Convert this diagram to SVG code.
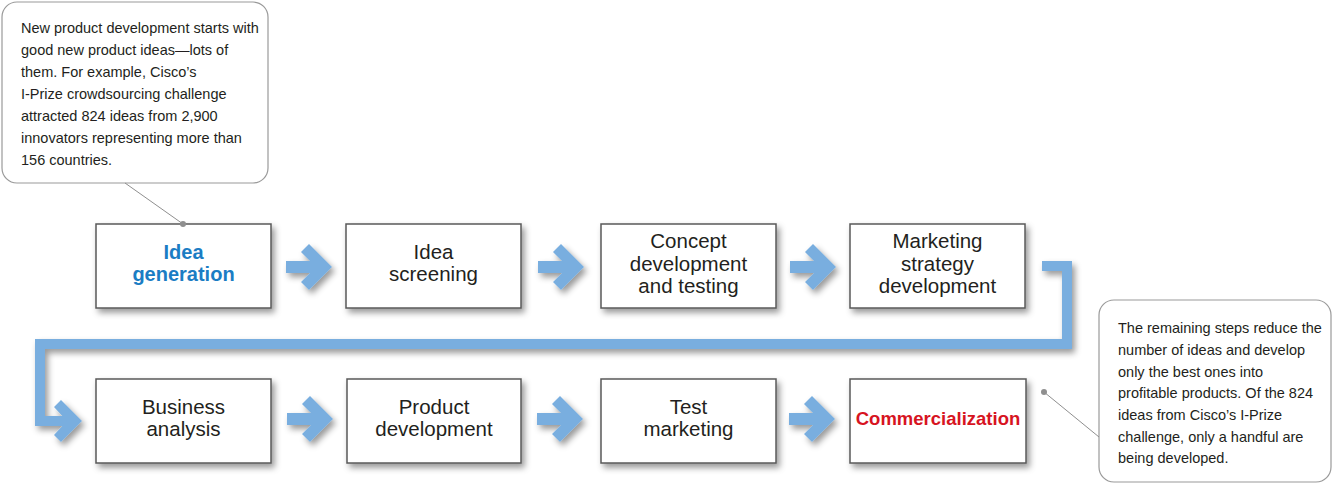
<svg xmlns="http://www.w3.org/2000/svg" xmlns:xlink="http://www.w3.org/1999/xlink" width="1333" height="487" viewBox="0 0 1333 487">
<defs>
<style>
.box{fill:#fff;stroke:#5a5a5a;stroke-width:1.5}
.lbl{font-family:"Liberation Sans",Arial,Helvetica,sans-serif;font-size:20.5px;fill:#231f20;text-anchor:middle}
.blue{fill:#1b7dc4;font-weight:bold;font-size:20px}
.red{fill:#d7141f;font-weight:bold;font-size:18.5px}
.callout{fill:#fff;stroke:#9a9a9a;stroke-width:1.2}
.ctext{font-family:"Liberation Sans",Arial,Helvetica,sans-serif;font-size:14.5px;fill:#231f20}
.ptr{stroke:#8f8f8f;stroke-width:1;fill:none}
.dot{fill:#8f8f8f}
.flow{fill:#79aedf}
.loop{fill:none;stroke:#79aedf;stroke-width:10;stroke-linejoin:miter}
</style>
<filter id="sh" x="-20%" y="-20%" width="150%" height="160%">
<feDropShadow dx="3" dy="4" stdDeviation="3" flood-color="#000" flood-opacity="0.4"/>
</filter>
<polygon id="arr" points="-46,-6 -22,-6 -31,-15 -23,-23 0,0 -23,23 -31,15 -22,6 -46,6"/>
</defs>

<g id="connectors" filter="url(#sh)">
<use xlink:href="#arr" class="flow" transform="translate(332,267)"/>
<use xlink:href="#arr" class="flow" transform="translate(584,267)"/>
<use xlink:href="#arr" class="flow" transform="translate(836,267)"/>
<path class="loop" d="M1042,266 H1067 V344 H40 V421 H72"/>
<polygon class="flow" points="82,421 61,400 54,407 67,421 54,435 61,442"/>
<use xlink:href="#arr" class="flow" transform="translate(333,419)"/>
<use xlink:href="#arr" class="flow" transform="translate(583,419)"/>
<use xlink:href="#arr" class="flow" transform="translate(835,419)"/>
</g>

<g id="idea-generation">
<rect class="box" x="96" y="224" width="175" height="84" filter="url(#sh)"/>
<text class="lbl blue" x="183.5" y="259">Idea</text>
<text class="lbl blue" x="183.5" y="281">generation</text>
</g>
<g id="idea-screening">
<rect class="box" x="346" y="224" width="175" height="84" filter="url(#sh)"/>
<text class="lbl" x="433.5" y="259">Idea</text>
<text class="lbl" x="433.5" y="281">screening</text>
</g>
<g id="concept-development">
<rect class="box" x="601" y="224" width="175" height="84" filter="url(#sh)"/>
<text class="lbl" x="688.5" y="248">Concept</text>
<text class="lbl" x="688.5" y="270.5">development</text>
<text class="lbl" x="688.5" y="293">and testing</text>
</g>
<g id="marketing-strategy">
<rect class="box" x="850" y="224" width="175" height="84" filter="url(#sh)"/>
<text class="lbl" x="937.5" y="248">Marketing</text>
<text class="lbl" x="937.5" y="270.5">strategy</text>
<text class="lbl" x="937.5" y="293">development</text>
</g>
<g id="business-analysis">
<rect class="box" x="96" y="379" width="175" height="84" filter="url(#sh)"/>
<text class="lbl" x="183.5" y="413.5">Business</text>
<text class="lbl" x="183.5" y="436">analysis</text>
</g>
<g id="product-development">
<rect class="box" x="347" y="379" width="174" height="84" filter="url(#sh)"/>
<text class="lbl" x="434" y="413.5">Product</text>
<text class="lbl" x="434" y="436">development</text>
</g>
<g id="test-marketing">
<rect class="box" x="601" y="379" width="175" height="84" filter="url(#sh)"/>
<text class="lbl" x="688.5" y="413.5">Test</text>
<text class="lbl" x="688.5" y="436">marketing</text>
</g>
<g id="commercialization">
<rect class="box" x="850" y="379" width="176" height="84" filter="url(#sh)"/>
<text class="lbl red" x="938" y="425">Commercialization</text>
</g>

<g id="callout-left">
<rect class="callout" x="2" y="2" width="266" height="181" rx="15" ry="15"/>
<line class="ptr" x1="125" y1="183" x2="183" y2="224"/>
<circle class="dot" cx="183" cy="224" r="3"/>
<text class="ctext" x="21" y="33">New product development starts with</text>
<text class="ctext" x="21" y="55">good new product ideas—lots of</text>
<text class="ctext" x="21" y="77">them. For example, Cisco’s</text>
<text class="ctext" x="21" y="99">I-Prize crowdsourcing challenge</text>
<text class="ctext" x="21" y="121">attracted 824 ideas from 2,900</text>
<text class="ctext" x="21" y="143">innovators representing more than</text>
<text class="ctext" x="21" y="165">156 countries.</text>
</g>

<g id="callout-right">
<rect class="callout" x="1099" y="300" width="232" height="182" rx="15" ry="15"/>
<line class="ptr" x1="1044" y1="392" x2="1099" y2="437"/>
<circle class="dot" cx="1044" cy="392" r="3"/>
<text class="ctext" x="1118" y="333">The remaining steps reduce the</text>
<text class="ctext" x="1118" y="355">number of ideas and develop</text>
<text class="ctext" x="1118" y="376.5">only the best ones into</text>
<text class="ctext" x="1118" y="398">profitable products. Of the 824</text>
<text class="ctext" x="1118" y="420">ideas from Cisco’s I-Prize</text>
<text class="ctext" x="1118" y="441.5">challenge, only a handful are</text>
<text class="ctext" x="1118" y="463">being developed.</text>
</g>
</svg>
